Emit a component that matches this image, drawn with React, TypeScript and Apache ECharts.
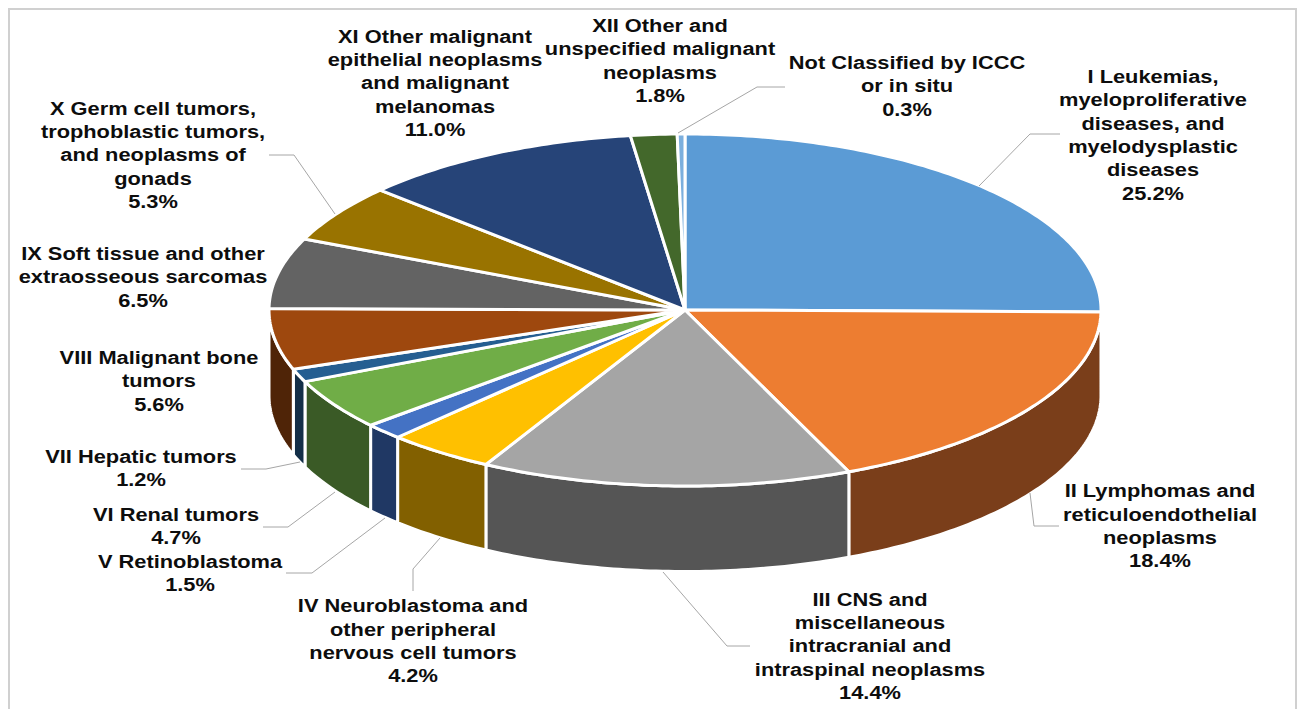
import React, { useEffect, useRef } from "react";
import * as echarts from "echarts";

const categories = [
  "I Leukemias,\nmyeloproliferative\ndiseases, and\nmyelodysplastic\ndiseases",
  "II Lymphomas and\nreticuloendothelial\nneoplasms",
  "III CNS and\nmiscellaneous\nintracranial and\nintraspinal neoplasms",
  "IV Neuroblastoma and\nother peripheral\nnervous cell tumors",
  "V Retinoblastoma",
  "VI Renal tumors",
  "VII Hepatic tumors",
  "VIII Malignant bone\ntumors",
  "IX Soft tissue and other\nextraosseous sarcomas",
  "X Germ cell tumors,\ntrophoblastic tumors,\nand neoplasms of\ngonads",
  "XI Other malignant\nepithelial neoplasms\nand malignant\nmelanomas",
  "XII Other and\nunspecified malignant\nneoplasms",
  "Not Classified by ICCC\nor in situ",
];
const values = [25.2, 18.4, 14.4, 4.2, 1.5, 4.7, 1.2, 5.6, 6.5, 5.3, 11.0, 1.8, 0.3];
const topColors = ["#5B9BD5", "#ED7D31", "#A5A5A5", "#FFC000", "#4472C4", "#70AD47", "#255E91", "#9E480E", "#636363", "#997300", "#264478", "#43682B", "#7CAFDD"];
const sideColors = ["#3D6C98", "#7A3E1A", "#555555", "#826000", "#203864", "#3A5A26", "#132F48", "#4F2407", "#3B3B3B", "#5C4500", "#172A48", "#2A4019", "#4A6985"];

// Layout only: label centres and leader lines, in page pixels
const labelCenters: number[][] = [
  [1153, 135], [1160, 526], [870, 646], [413, 641], [190, 573], [176, 526], [141, 468],
  [159, 381], [143, 277], [153, 155], [435, 83], [660, 60.5], [907, 86],
];
const leaderLines: number[][][] = [
  [[979, 186], [1030, 134], [1060, 134]],
  [[1030, 493], [1034, 526], [1059, 526]],
  [[663, 572], [727, 646], [750, 646]],
  [[440, 538], [413, 569], [413, 591]],
  [[385, 518], [312, 573], [286, 573]],
  [[335, 492], [288, 527], [263, 527]],
  [[300, 462], [266, 469], [241, 469]],
  [[335, 214], [294, 155], [269, 155]],
  [[678, 133], [757, 87], [785, 87]],
];

const CX = 685, CY = 310, RX = 416, RY = 176, DEPTH = 85.5;
const total = values.reduce((a, b) => a + b, 0);
const angleAt = (i: number) => (values.slice(0, i).reduce((a, b) => a + b, 0) / total) * Math.PI * 2;
const rim = (a: number, dy = 0) => [CX + RX * Math.sin(a), CY - RY * Math.cos(a) + dy];
const arc = (a0: number, a1: number, dy = 0) => {
  const n = Math.max(2, Math.ceil(Math.abs(a1 - a0) / 0.015));
  const pts: number[][] = [];
  for (let k = 0; k <= n; k++) pts.push(rim(a0 + ((a1 - a0) * k) / n, dy));
  return pts;
};

const renderSide = (params: any) => {
  const i = params.dataIndex;
  const a0 = Math.max(angleAt(i), Math.PI / 2);
  const a1 = Math.min(angleAt(i + 1), (Math.PI * 3) / 2);
  if (a1 <= a0) return null;
  return {
    type: "polygon",
    shape: { points: [...arc(a0, a1), ...arc(a1, a0, DEPTH)] },
    style: { fill: sideColors[i], stroke: "#FFFFFF", lineWidth: 3, lineJoin: "round" },
  };
};
const renderTop = (params: any) => {
  const i = params.dataIndex;
  return {
    type: "polygon",
    shape: { points: [[CX, CY], ...arc(angleAt(i), angleAt(i + 1))] },
    style: { fill: topColors[i], stroke: "#FFFFFF", lineWidth: 3, lineJoin: "round" },
  };
};

export default function App() {
  const ref = useRef<HTMLDivElement>(null);
  useEffect(() => {
    const chart = echarts.init(ref.current!, undefined, { renderer: "svg" });
    const seriesData = values.map((v, i) => ({ name: categories[i].replace(/\n/g, " "), value: v }));
    chart.setOption({
      animation: false,
      backgroundColor: "#FFFFFF",
      series: [
        { type: "custom", coordinateSystem: "none", silent: true, z: 1, data: seriesData, renderItem: renderSide },
        { type: "custom", coordinateSystem: "none", silent: true, z: 2, data: seriesData, renderItem: renderTop },
      ],
      graphic: [
        {
          type: "polyline",
          silent: true,
          shape: { points: [[9, 709], [9, 9], [1296, 9], [1296, 709]] },
          style: { fill: "none", stroke: "#D0D0D0", lineWidth: 2 },
        },
        ...leaderLines.map((points) => ({
          type: "polyline",
          silent: true,
          z: 3,
          shape: { points },
          style: { fill: "none", stroke: "#A6A6A6", lineWidth: 1 },
        })),
        ...categories.map((c, i) => ({
          type: "text",
          silent: true,
          z: 4,
          x: labelCenters[i][0],
          y: labelCenters[i][1],
          scaleX: 1.18,
          style: {
            text: `${c}\n${values[i].toFixed(1)}%`,
            font: "bold 18.5px 'Liberation Sans', Arial, sans-serif",
            lineHeight: 23.3,
            align: "center",
            verticalAlign: "middle",
            fill: "#0D0D0D",
          },
        })),
      ],
    });
    return () => chart.dispose();
  }, []);
  return <div ref={ref} style={{ position: "fixed", left: 0, top: 0, width: 1301, height: 709 }} />;
}
